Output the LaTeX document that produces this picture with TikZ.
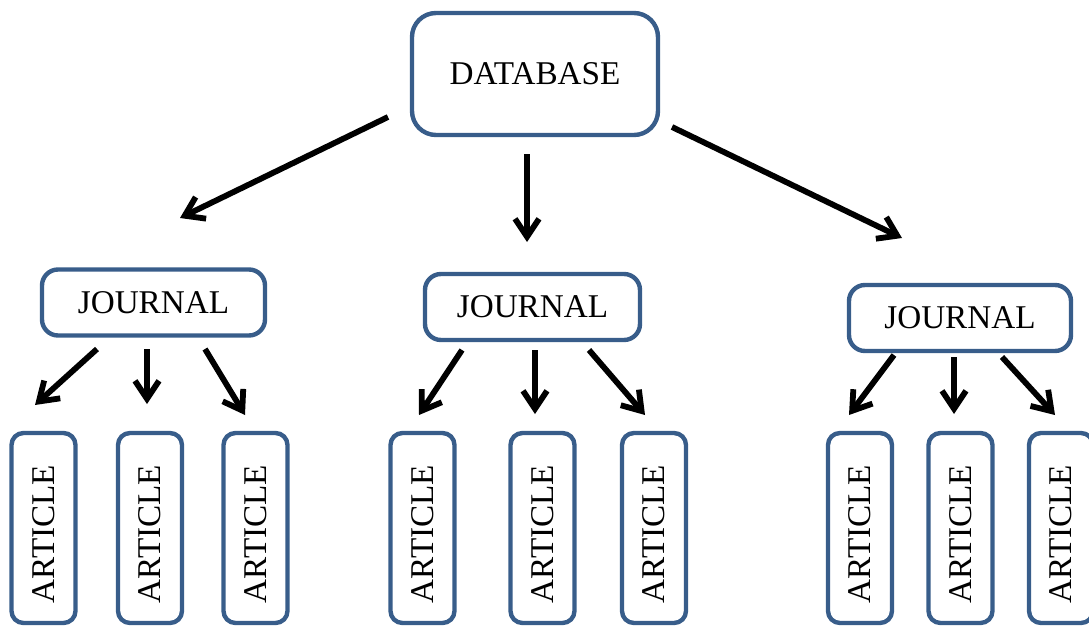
\documentclass[tikz,border=0pt]{standalone}
\usepackage{fontspec}
\setmainfont{Liberation Serif}
\usetikzlibrary{arrows.meta}
\definecolor{boxblue}{RGB}{56,93,138}

\begin{document}
\begin{tikzpicture}[x=0.5pt,y=-0.5pt,
  box/.style={draw=boxblue, line width=2.2pt, fill=white, inner sep=0pt,
    font=\fontsize{16.6}{19}\selectfont},
  dbbox/.style={box, rounded corners=12pt, minimum width=123pt, minimum height=61pt},
  jbox/.style={box, rounded corners=8pt, minimum height=33pt},
  abox/.style={box, rounded corners=6pt, rotate=90, minimum width=95pt, minimum height=32pt,
    execute at end node=\hspace*{6pt}},
  link/.style={line width=2.9pt, -{Straight Barb[length=9pt,width=12pt]}}]
  \useasboundingbox (0,0) rectangle (1089,627);

  % Database
  \node[dbbox] (DB) at (535,74) {DATABASE};

  % Journals
  \node[jbox, minimum width=111.5pt] (J1) at (153.5,302.5) {JOURNAL};
  \node[jbox, minimum width=107.5pt] (J2) at (532.5,307) {JOURNAL};
  \node[jbox, minimum width=111pt] (J3) at (960,318) {JOURNAL};

  % Articles
  \node[abox] (A11) at (43.5,528) {ARTICLE};
  \node[abox] (A12) at (150,528) {ARTICLE};
  \node[abox] (A13) at (255.5,528) {ARTICLE};
  \node[abox] (A21) at (422.5,528) {ARTICLE};
  \node[abox] (A22) at (542.5,528) {ARTICLE};
  \node[abox] (A23) at (654,528) {ARTICLE};
  \node[abox] (A31) at (860,528) {ARTICLE};
  \node[abox] (A32) at (960.5,528) {ARTICLE};
  \node[abox] (A33) at (1061,528) {ARTICLE};

  % Arrow ends below the database
  \coordinate (DBl) at (388,117);  \coordinate (J1t) at (180,218);
  \coordinate (DBm) at (527,154);  \coordinate (J2t) at (527,242);
  \coordinate (DBr) at (672,127);  \coordinate (J3t) at (902,238);

  % Arrow ends below the journals
  \coordinate (J1l) at (97,349);   \coordinate (A11t) at (35,405);
  \coordinate (J1m) at (147,349);  \coordinate (A12t) at (147,404);
  \coordinate (J1r) at (205,349);  \coordinate (A13t) at (245,415);
  \coordinate (J2l) at (462,350);  \coordinate (A21t) at (419,415);
  \coordinate (J2m) at (535,350);  \coordinate (A22t) at (535,414);
  \coordinate (J2r) at (589,350);  \coordinate (A23t) at (645,415);
  \coordinate (J3l) at (894,355);  \coordinate (A31t) at (849,415);
  \coordinate (J3m) at (954,357);  \coordinate (A32t) at (954,414);
  \coordinate (J3r) at (1002,357); \coordinate (A33t) at (1055,415);

  % Draw the arrows
  \draw[link] (DBl) -- (J1t);
  \draw[link] (DBm) -- (J2t);
  \draw[link] (DBr) -- (J3t);
  \draw[link] (J1l) -- (A11t);
  \draw[link] (J1m) -- (A12t);
  \draw[link] (J1r) -- (A13t);
  \draw[link] (J2l) -- (A21t);
  \draw[link] (J2m) -- (A22t);
  \draw[link] (J2r) -- (A23t);
  \draw[link] (J3l) -- (A31t);
  \draw[link] (J3m) -- (A32t);
  \draw[link] (J3r) -- (A33t);
\end{tikzpicture}
\end{document}
